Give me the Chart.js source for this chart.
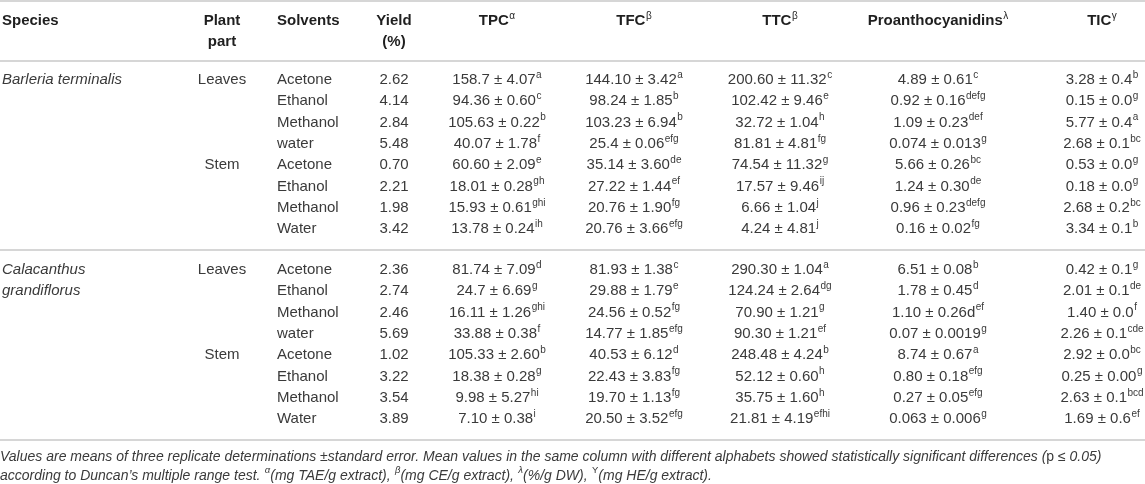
<!DOCTYPE html>
<html>
<head>
<meta charset="utf-8">
<script src="https://cdn.jsdelivr.net/npm/chart.js@4.4.1/dist/chart.umd.min.js"></script>
<style>
  html, body { margin: 0; padding: 0; background: #fff; }
  #wrap { width: 1145px; height: 484px; }
</style>
</head>
<body>
<div id="wrap"><canvas id="tableChart" width="1145" height="484"></canvas></div>
<script>
// Table values
const species = ['Barleria terminalis', '', '', '', '', '', '', '',
  'Calacanthus', 'grandiflorus', '', '', '', '', '', ''];
const plantPart = ['Leaves', '', '', '', 'Stem', '', '', '',
  'Leaves', '', '', '', 'Stem', '', '', ''];
const solvents = ['Acetone', 'Ethanol', 'Methanol', 'water', 'Acetone', 'Ethanol', 'Methanol', 'Water',
  'Acetone', 'Ethanol', 'Methanol', 'water', 'Acetone', 'Ethanol', 'Methanol', 'Water'];
const yieldPct = ['2.62', '4.14', '2.84', '5.48', '0.70', '2.21', '1.98', '3.42',
  '2.36', '2.74', '2.46', '5.69', '1.02', '3.22', '3.54', '3.89'];

const tpc = ['158.7 ± 4.07', '94.36 ± 0.60', '105.63 ± 0.22', '40.07 ± 1.78', '60.60 ± 2.09',
  '18.01 ± 0.28', '15.93 ± 0.61', '13.78 ± 0.24', '81.74 ± 7.09', '24.7 ± 6.69',
  '16.11 ± 1.26', '33.88 ± 0.38', '105.33 ± 2.60', '18.38 ± 0.28', '9.98 ± 5.27', '7.10 ± 0.38'];
const tpcSig = ['a', 'c', 'b', 'f', 'e', 'gh', 'ghi', 'ih', 'd', 'g', 'ghi', 'f', 'b', 'g', 'hi', 'i'];

const tfc = ['144.10 ± 3.42', '98.24 ± 1.85', '103.23 ± 6.94', '25.4 ± 0.06', '35.14 ± 3.60',
  '27.22 ± 1.44', '20.76 ± 1.90', '20.76 ± 3.66', '81.93 ± 1.38', '29.88 ± 1.79',
  '24.56 ± 0.52', '14.77 ± 1.85', '40.53 ± 6.12', '22.43 ± 3.83', '19.70 ± 1.13', '20.50 ± 3.52'];
const tfcSig = ['a', 'b', 'b', 'efg', 'de', 'ef', 'fg', 'efg', 'c', 'e', 'fg', 'efg', 'd', 'fg', 'fg', 'efg'];

const ttc = ['200.60 ± 11.32', '102.42 ± 9.46', '32.72 ± 1.04', '81.81 ± 4.81', '74.54 ± 11.32',
  '17.57 ± 9.46', '6.66 ± 1.04', '4.24 ± 4.81', '290.30 ± 1.04', '124.24 ± 2.64',
  '70.90 ± 1.21', '90.30 ± 1.21', '248.48 ± 4.24', '52.12 ± 0.60', '35.75 ± 1.60', '21.81 ± 4.19'];
const ttcSig = ['c', 'e', 'h', 'fg', 'g', 'ij', 'j', 'j', 'a', 'dg', 'g', 'ef', 'b', 'h', 'h', 'efhi'];

const proantho = ['4.89 ± 0.61', '0.92 ± 0.16', '1.09 ± 0.23', '0.074 ± 0.013', '5.66 ± 0.26',
  '1.24 ± 0.30', '0.96 ± 0.23', '0.16 ± 0.02', '6.51 ± 0.08', '1.78 ± 0.45',
  '1.10 ± 0.26d', '0.07 ± 0.0019', '8.74 ± 0.67', '0.80 ± 0.18', '0.27 ± 0.05', '0.063 ± 0.006'];
const proanthoSig = ['c', 'defg', 'def', 'g', 'bc', 'de', 'defg', 'fg', 'b', 'd', 'ef', 'g', 'a', 'efg', 'efg', 'g'];

const tic = ['3.28 ± 0.4', '0.15 ± 0.0', '5.77 ± 0.4', '2.68 ± 0.1', '0.53 ± 0.0',
  '0.18 ± 0.0', '2.68 ± 0.2', '3.34 ± 0.1', '0.42 ± 0.1', '2.01 ± 0.1',
  '1.40 ± 0.0', '2.26 ± 0.1', '2.92 ± 0.0', '0.25 ± 0.00', '2.63 ± 0.1', '1.69 ± 0.6'];
const ticSig = ['b', 'g', 'a', 'bc', 'g', 'g', 'bc', 'b', 'g', 'de', 'f', 'cde', 'bc', 'g', 'bcd', 'ef'];

// Column headers: [line1, superscript, line2]
const headers = [
  ['Species', '', ''],
  ['Plant', '', 'part'],
  ['Solvents', '', ''],
  ['Yield', '', '(%)'],
  ['TPC', 'α', ''],
  ['TFC', 'β', ''],
  ['TTC', 'β', ''],
  ['Proanthocyanidins', 'λ', ''],
  ['TIC', 'γ', '']
];

// footnote segments: [text, superscript, upright?]
const footLine1 = [
  ['Values are means of three replicate determinations ±standard error. Mean values in the same column with different alphabets showed statistically significant differences (', ''],
  ['p', '', true], [' ≤ 0.05)', '']
];
const footLine2 = [
  ['according to Duncan\u2019s multiple range test. ', ''], ['', 'α'], ['(mg TAE/g extract), ', ''],
  ['', 'β'], ['(mg CE/g extract), ', ''], ['', 'λ'], ['(%/g DW), ', ''], ['', 'Y', true], ['(mg HE/g extract).', '']
];

// Layout (x in page px, y in row units)
const colX = [2, 222, 277, 394, 497, 634, 780, 938, 1102];
const colAlign = ['left', 'center', 'left', 'center', 'center', 'center', 'center', 'center', 'center'];
const groupGap = 0.92;
const rowPos = i => (i < 8 ? i : i + groupGap);
const ruleRows = [-3.71, -0.91, 8.0, 16.9];

const cols = [
  [species, null], [plantPart, null], [solvents, null], [yieldPct, null],
  [tpc, tpcSig], [tfc, tfcSig], [ttc, ttcSig], [proantho, proanthoSig], [tic, ticSig]
];

const FAM = '"Liberation Sans", Arial, sans-serif';
const BODY = '15px ' + FAM;
const BODY_IT = 'italic 15px ' + FAM;
const HEAD = 'bold 15px ' + FAM;
const SUP = '10px ' + FAM;
const FOOT = 'italic 14px ' + FAM;
const FOOT_UP = '14px ' + FAM;
const FOOT_SUP = 'italic 9.5px ' + FAM;
const FOOT_SUP_UP = '9.5px ' + FAM;

const datasets = cols.map((c, ci) => ({
  label: headers[ci][0],
  data: c[0].map((v, i) => ({ x: colX[ci], y: rowPos(i) })),
  cellText: c[0],
  cellSup: c[1],
  align: colAlign[ci],
  font: ci === 0 ? BODY_IT : BODY,
  color: '#3a3a3a',
  pointRadius: 0
}));

// header cells, two lines
[0, 2].forEach((k, li) => {
  datasets.push({
    label: 'header' + (li + 1),
    data: headers.map((h, ci) => ({ x: colX[ci], y: li === 0 ? -2.78 : -1.8 })),
    cellText: headers.map(h => h[k]),
    cellSup: li === 0 ? headers.map(h => h[1]) : null,
    alignList: colAlign,
    font: HEAD,
    color: '#1f1f1f',
    pointRadius: 0
  });
});

function segFonts(s, font, supFont, upFont, upSupFont) {
  return s[2] ? [upFont || font, upSupFont || supFont] : [font, supFont];
}

function measureRich(ctx, segs, font, supFont, upFont, upSupFont) {
  let w = 0;
  segs.forEach(s => {
    const f = segFonts(s, font, supFont, upFont, upSupFont);
    ctx.font = f[0]; w += ctx.measureText(s[0]).width;
    if (s[1]) { ctx.font = f[1]; w += ctx.measureText(s[1]).width + 0.5; }
  });
  return w;
}

function drawRich(ctx, segs, x, y, align, font, supFont, color, upFont, upSupFont) {
  const w = measureRich(ctx, segs, font, supFont, upFont, upSupFont);
  let cx = align === 'center' ? x - w / 2 : x;
  ctx.fillStyle = color;
  ctx.textAlign = 'left';
  ctx.textBaseline = 'middle';
  segs.forEach(s => {
    const f = segFonts(s, font, supFont, upFont, upSupFont);
    if (s[0]) {
      ctx.font = f[0]; ctx.fillText(s[0], cx, y);
      cx += ctx.measureText(s[0]).width;
    }
    if (s[1]) {
      ctx.font = f[1]; ctx.fillText(s[1], cx + 0.5, y - 5);
      cx += ctx.measureText(s[1]).width + 0.5;
    }
  });
}

const tablePlugin = {
  id: 'tableCells',
  afterDatasetsDraw(chart) {
    const ctx = chart.ctx;
    const xs = chart.scales.x, ys = chart.scales.y;
    ctx.save();
    // horizontal rules
    ctx.strokeStyle = '#d6d6d6';
    ctx.lineWidth = 2;
    ruleRows.forEach(r => {
      const py = Math.round(ys.getPixelForValue(r));
      ctx.beginPath();
      ctx.moveTo(xs.left, py);
      ctx.lineTo(xs.right, py);
      ctx.stroke();
    });
    // cells
    chart.data.datasets.forEach((ds, di) => {
      const meta = chart.getDatasetMeta(di);
      meta.data.forEach((pt, i) => {
        const txt = ds.cellText[i];
        const sup = ds.cellSup ? ds.cellSup[i] : '';
        if (!txt && !sup) return;
        const align = ds.alignList ? ds.alignList[i] : ds.align;
        drawRich(ctx, [[txt, sup]], pt.x, pt.y, align, ds.font, SUP, ds.color);
      });
    });
    // footnote
    const fx = xs.getPixelForValue(0);
    drawRich(ctx, footLine1, fx, ys.getPixelForValue(17.72), 'left', FOOT, FOOT_SUP, '#3a3a3a', FOOT_UP, FOOT_SUP_UP);
    drawRich(ctx, footLine2, fx, ys.getPixelForValue(18.58), 'left', FOOT, FOOT_SUP, '#3a3a3a', FOOT_UP, FOOT_SUP_UP);
    ctx.restore();
  }
};

new Chart(document.getElementById('tableChart').getContext('2d'), {
  type: 'scatter',
  data: { datasets: datasets },
  options: {
    responsive: false,
    animation: false,
    events: [],
    layout: { padding: 0 },
    plugins: { legend: { display: false }, tooltip: { enabled: false } },
    scales: {
      x: { type: 'linear', min: 0, max: 1145, display: false },
      y: { type: 'linear', min: -3.756, max: 18.967, reverse: true, display: false }
    }
  },
  plugins: [tablePlugin]
});
</script>
</body>
</html>
